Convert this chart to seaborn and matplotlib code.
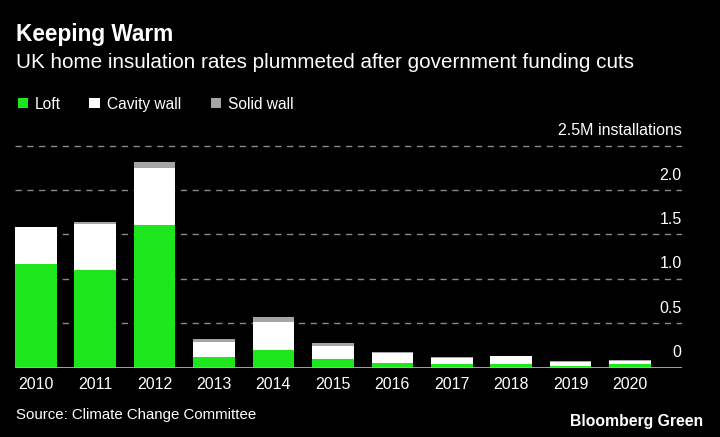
import matplotlib
matplotlib.use("Agg")
import matplotlib.pyplot as plt
import matplotlib.transforms as mtransforms
import seaborn as sns
import numpy as np

years = ["2010", "2011", "2012", "2013", "2014", "2015", "2016", "2017", "2018", "2019", "2020"]
loft = [1.17, 1.10, 1.61, 0.116, 0.195, 0.093, 0.052, 0.037, 0.035, 0.02, 0.035]
cavity = [0.41, 0.52, 0.64, 0.166, 0.32, 0.155, 0.106, 0.071, 0.09, 0.04, 0.035]
solid = [0.0, 0.02, 0.07, 0.034, 0.056, 0.028, 0.019, 0.012, 0.005, 0.01, 0.01]
yticks = [0, 0.5, 1.0, 1.5, 2.0, 2.5]
ytick_labels = ["0", "0.5", "1.0", "1.5", "2.0", "2.5M installations"]

series_names = ["Loft", "Cavity wall", "Solid wall"]
colors = ["#1de61d", "#ffffff", "#a5a5a5"]

sns.set_style("dark")
plt.rcParams["font.family"] = ["Liberation Sans", "DejaVu Sans"]

BG = "#000000"
fig = plt.figure(figsize=(7.2, 4.37), dpi=100, facecolor=BG)
ax = fig.add_axes([0.0208, 0.159, 0.926, 0.518])
ax.set_facecolor(BG)

loft_a = np.array(loft)
cav_a = np.array(cavity)
sol_a = np.array(solid)

sns.barplot(x=years, y=loft_a, color=colors[0], saturation=1, width=0.7,
            errorbar=None, ax=ax, linewidth=0, zorder=3)
sns.barplot(x=years, y=cav_a, bottom=loft_a, color=colors[1], saturation=1, width=0.7,
            errorbar=None, ax=ax, linewidth=0, zorder=3)
sns.barplot(x=years, y=sol_a, bottom=loft_a + cav_a, color=colors[2], saturation=1, width=0.7,
            errorbar=None, ax=ax, linewidth=0, zorder=3)

ax.set_xlim(-0.35, 10.87)
ax.set_ylim(0, 2.55)
for s in ax.spines.values():
    s.set_visible(False)
ax.grid(False)
ax.set_xlabel("")
ax.set_ylabel("")
ax.set_yticks([])
ax.tick_params(axis="x", length=0, pad=6.5, labelsize=11.5, labelcolor="white")

# gridlines and right-side labels
trans = mtransforms.blended_transform_factory(ax.transAxes, ax.transData)
for v, lab in zip(yticks, ytick_labels):
    if v == 0:
        ax.axhline(v, color="#b0b0b0", lw=1.3, zorder=4)
    else:
        ax.axhline(v, color="#8a8a8a", lw=1.0, linestyle=(0, (4.5, 4)), zorder=1)
    ax.text(1.0, v + 0.168, lab, transform=trans, ha="right", va="center",
            color="white", fontsize=11.5)

# title / subtitle
fig.text(0.022, 1 - 41 / 437, "Keeping Warm", color="white", fontsize=16.3,
         fontweight="bold", ha="left", va="baseline")
fig.text(0.022, 1 - 68.5 / 437,
         "UK home insulation rates plummeted after government funding cuts",
         color="white", fontsize=14.9, ha="left", va="baseline")

# legend
sq_x = [17.7, 89.3, 210.7]
for name, c, x in zip(series_names, colors, sq_x):
    fig.patches.append(plt.Rectangle((x / 720, 1 - 108.3 / 437), 10.6 / 720, 10.6 / 437,
                                     transform=fig.transFigure, facecolor=c,
                                     edgecolor="none"))
    fig.text((x + 17.3) / 720, 1 - 109 / 437, name, color="white", fontsize=11.2,
             ha="left", va="baseline")

# footer
fig.text(16 / 720, 1 - 414.5 / 437, "Source: Climate Change Committee", color="white",
         fontsize=10.8, ha="left", va="center")
fig.text(703 / 720, 1 - 421.5 / 437, "Bloomberg Green", color="white", fontsize=11.3,
         fontweight="bold", ha="right", va="center",
         family=["Liberation Sans Narrow", "Liberation Sans", "DejaVu Sans"])

fig.savefig("out.png", dpi=100, facecolor=BG)
